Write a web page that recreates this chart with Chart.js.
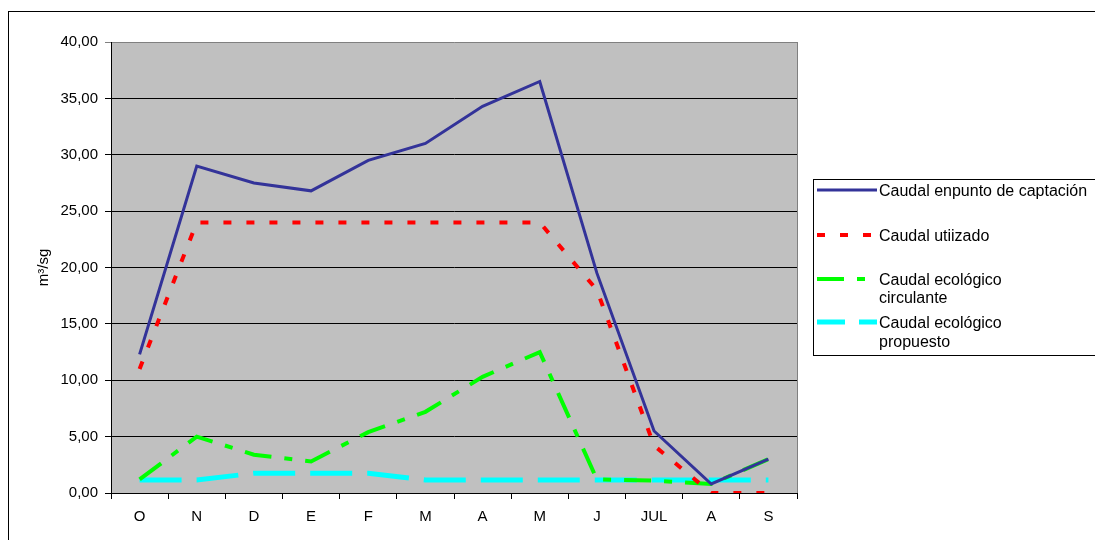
<!DOCTYPE html>
<html>
<head>
<meta charset="utf-8">
<script src="https://cdn.jsdelivr.net/npm/chart.js@4/dist/chart.umd.min.js"></script>
<style>
  html, body { margin: 0; padding: 0; background: #fff; }
  #wrap { width: 1095px; height: 540px; }
</style>
</head>
<body>
<div id="wrap"><canvas id="caudalChart" width="1095" height="540"></canvas></div>
<script>
const months = ['O', 'N', 'D', 'E', 'F', 'M', 'A', 'M', 'J', 'JUL', 'A', 'S'];

const caudalCaptacion = [12.3, 29.0, 27.5, 26.8, 29.5, 31.0, 34.3, 36.5, 19.5, 5.5, 0.8, 3.0];
const caudalUtilizado = [11.0, 24.0, 24.0, 24.0, 24.0, 24.0, 24.0, 24.0, 18.0, 4.2, 0.0, 0.0];
const caudalCirculante = [1.2, 5.0, 3.4, 2.8, 5.4, 7.2, 10.3, 12.5, 1.2, 1.1, 0.8, 3.0];
const caudalPropuesto = [1.15, 1.15, 1.75, 1.75, 1.75, 1.15, 1.15, 1.15, 1.15, 1.15, 1.15, 1.15];

const legendLines = [
    ['Caudal enpunto de captación'],
    ['Caudal utiizado'],
    ['Caudal ecológico', 'circulante'],
    ['Caudal ecológico', 'propuesto']
];

const FONT = 'Liberation Sans, Arial, sans-serif';

// plot background, outer frame and the boxed legend on the right
const framePlugin = {
    id: 'frame',
    beforeDraw(chart) {
        const { ctx, chartArea: a } = chart;
        ctx.save();
        ctx.fillStyle = '#c0c0c0';
        ctx.fillRect(a.left, a.top, a.right - a.left, a.bottom - a.top);
        ctx.strokeStyle = '#000';
        ctx.lineWidth = 1;
        ctx.strokeRect(8.5, 11.5, 1200, 600);
        ctx.restore();
    },
    afterDraw(chart) {
        const { ctx, chartArea: a } = chart;
        ctx.save();
        ctx.strokeStyle = '#808080';
        ctx.lineWidth = 1;
        ctx.beginPath();
        ctx.moveTo(a.right + 0.5, a.top);
        ctx.lineTo(a.right + 0.5, a.bottom);
        ctx.stroke();

        // legend box
        ctx.strokeStyle = '#000';
        ctx.strokeRect(813.5, 179.5, 400, 176);

        const rows = [[192], [237], [281, 299], [324, 343]];
        ctx.font = '16px ' + FONT;
        ctx.textBaseline = 'middle';
        ctx.textAlign = 'left';
        chart.data.datasets.forEach((ds, i) => {
            const ly = rows[i][0] - 2;
            ctx.save();
            ctx.strokeStyle = ds.borderColor;
            ctx.lineWidth = ds.borderWidth;
            ctx.setLineDash(i === 3 ? [28, 14] : (ds.borderDash || []));
            ctx.beginPath();
            ctx.moveTo(817, ly);
            ctx.lineTo(877, ly);
            ctx.stroke();
            ctx.restore();
            ctx.fillStyle = '#000';
            legendLines[i].forEach((t, k) => ctx.fillText(t, 879, rows[i][k]));
        });
        ctx.restore();
    }
};

const ctx = document.getElementById('caudalChart').getContext('2d');

new Chart(ctx, {
    type: 'line',
    data: {
        labels: months,
        datasets: [
            {
                label: legendLines[0].join(' '),
                data: caudalCaptacion,
                borderColor: '#333399',
                borderWidth: 3,
                pointRadius: 0,
                tension: 0
            },
            {
                label: legendLines[1].join(' '),
                data: caudalUtilizado,
                borderColor: '#ff0000',
                borderWidth: 4,
                borderDash: [8, 15],
                pointRadius: 0,
                tension: 0
            },
            {
                label: legendLines[2].join(' '),
                data: caudalCirculante,
                borderColor: '#00ff00',
                borderWidth: 4,
                borderDash: [27, 13, 8, 13],
                pointRadius: 0,
                tension: 0
            },
            {
                label: legendLines[3].join(' '),
                data: caudalPropuesto,
                borderColor: '#00ffff',
                borderWidth: 5,
                borderDash: [42, 15],
                pointRadius: 0,
                tension: 0
            }
        ]
    },
    options: {
        responsive: false,
        animation: false,
        layout: { padding: { left: 0, top: 42, right: 298, bottom: 0 } },
        plugins: {
            legend: { display: false },
            tooltip: { enabled: false }
        },
        scales: {
            x: {
                offset: true,
                afterFit(scale) { scale.height = 47; },
                grid: {
                    offset: true,
                    drawOnChartArea: false,
                    tickLength: 6,
                    color: '#000'
                },
                border: { color: '#000', width: 1 },
                ticks: {
                    color: '#000',
                    font: { family: FONT, size: 15 },
                    padding: 9,
                    maxRotation: 0,
                    autoSkip: false
                }
            },
            y: {
                min: 0,
                max: 40,
                afterFit(scale) { scale.width = 111; },
                grid: {
                    tickLength: 6,
                    color: (c) => c.tick && c.tick.value === 40 ? '#808080' : '#000'
                },
                border: { color: '#000', width: 1 },
                ticks: {
                    stepSize: 5,
                    color: '#000',
                    padding: 7,
                    font: { family: FONT, size: 15 },
                    callback: (v) => v.toFixed(2).replace('.', ',')
                },
                title: {
                    display: true,
                    text: 'm³/sg',
                    color: '#000',
                    font: { family: FONT, size: 15 },
                    padding: { top: 35, bottom: 0 }
                }
            }
        }
    },
    plugins: [framePlugin]
});
</script>
</body>
</html>
